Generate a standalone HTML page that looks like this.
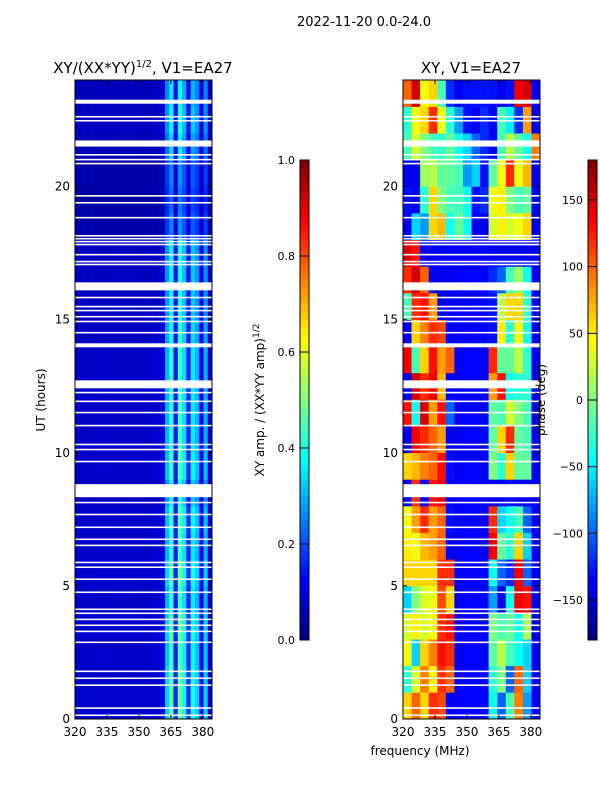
<!DOCTYPE html>
<html><head><meta charset="utf-8">
<style>
body{margin:0;background:#fff;}
svg{display:block;font-family:"DejaVu Sans","Liberation Sans",sans-serif;}
</style></head>
<body>
<svg id="fig" width="600" height="800" viewBox="0 0 600 800">
<text x="364" y="26" font-size="13" text-anchor="middle">2022-11-20 0.0-24.0</text>
<text x="143" y="73" font-size="15" text-anchor="middle">XY/(XX*YY)<tspan font-size="10" dy="-6">1/2</tspan><tspan dy="6">, V1=EA27</tspan></text>
<text x="471" y="73" font-size="15" text-anchor="middle">XY, V1=EA27</text>
<g id="left"></g>
<g id="right"></g>
<g id="cb1"></g>
<g id="cb2"></g>
<g id="axes"></g>
<text transform="translate(45,400) rotate(-90)" font-size="12" text-anchor="middle">UT (hours)</text>
<text x="420" y="755" font-size="12" text-anchor="middle">frequency (MHz)</text>
<text transform="translate(264,400) rotate(-90)" font-size="12" text-anchor="middle">XY amp. / (XX*YY amp)<tspan font-size="9" dy="-5">1/2</tspan></text>
<text transform="translate(545,400) rotate(-90)" font-size="12" text-anchor="middle">phase (deg)</text>
</svg>
<script>
// ---- data ----
const ampProfile=[0.07,0.07,0.07,0.07,0.07,0.07,0.07,0.07,0.07,0.07,0.07,0.07,0.07,0.07,0.07,0.07,0.07,0.07,0.07,0.08,0.09,0.3,0.42,0.15,0.45,0.35,0.15,0.36,0.3,0.12,0.3,0.07];
const ampRow=[1.1,1.1,1.05,1.1,1.0,1.1,1.0,1.05,0.9,1.05,1.0,1.0,1.0,1.0,0.95,0.9,0.9,0.9,0.6,0.55,0.6,0.8,0.9,0.85];
const phase=[
[60,100,60,120,110,-140,-135,-135,-135,-135,-40,-100,-20,90,-80,-140],
[-30,30,90,50,120,100,-135,-135,-135,-135,-30,0,-100,100,-60,-140],
[40,-60,60,90,130,120,-140,-135,-135,-135,-10,20,-20,-40,-60,-140],
[30,50,30,40,120,130,-140,-135,-135,-135,0,-20,-10,-40,20,-140],
[-60,0,30,40,110,60,-140,-135,-135,-135,-80,-140,-40,140,130,-140],
[60,60,60,60,120,120,-140,-135,-135,-135,-40,-100,-120,140,-100,-140],
[50,40,70,80,100,-140,-140,-135,-135,-135,140,-10,-30,60,-60,-140],
[40,80,120,80,100,-130,-140,-135,-135,-135,120,-60,-40,-20,-100,-140],
[-140,120,-140,130,140,-140,-135,-135,-135,-135,-140,-140,-130,-140,-140,-135],
[60,70,90,100,130,-130,-140,-135,-135,-135,0,-30,60,-10,-10,-140],
[-140,140,120,100,80,-140,-140,-135,-135,-135,-10,60,120,-10,-20,-140],
[130,-40,150,80,130,-100,-140,-135,-135,-135,-10,-20,30,0,-20,-140],
[-140,150,120,140,70,-140,-140,-135,-135,-135,80,130,-40,-30,-30,-140],
[140,-20,60,130,80,100,-140,-135,-135,-135,120,-10,-10,20,-30,-140],
[-140,60,90,120,110,-140,-135,-135,-135,-135,-130,50,-30,40,-40,-140],
[-20,120,130,80,-140,-140,-135,-135,-135,-135,-130,20,60,60,-30,-140],
[120,150,100,-140,-140,-140,-135,-135,-135,-135,-120,-100,-20,10,-40,-140],
[150,130,-140,-140,-135,-135,-135,-135,-135,-135,-140,-140,-140,-140,-140,-140],
[-140,-60,-80,60,70,-40,-10,-40,-140,-140,30,50,30,40,60,-140],
[-130,-140,-30,60,0,-20,-20,-40,-130,-120,40,50,0,-20,-10,-140],
[-140,-140,10,20,-10,-10,-20,-80,-60,-130,-10,40,120,40,70,-140],
[-20,30,0,-20,-30,-10,-40,-60,-100,-120,-140,-20,20,-10,-40,90],
[-30,40,60,120,40,-30,-80,-130,-140,-120,-140,-20,-50,-120,80,-140],
[100,150,40,60,-20,-120,-140,-130,-130,-130,-130,-140,-130,140,150,-140]];
const flagStart=[23.11,22.59,22.44,21.5,21.16,20.98,20.83,19.62,19.36,18.8,18.12,18.01,17.9,17.79,17.41,17.15,17.04,16.1,15.8,15.46,15.31,15.08,14.9,14.48,13.96,12.42,12.23,11.9,11.48,10.99,10.28,10.09,9.64,8.33,8.1,7.65,7.17,6.72,6.49,5.85,5.67,5.22,4.73,4.09,3.94,3.71,3.49,3.26,2.85,1.76,1.5,1.24,0.38,0.11];
const flagDur=[0.15,0.06,0.06,0.23,0.06,0.06,0.06,0.06,0.06,0.06,0.06,0.06,0.06,0.06,0.06,0.06,0.06,0.3,0.06,0.06,0.06,0.06,0.06,0.06,0.15,0.3,0.06,0.06,0.06,0.06,0.06,0.06,0.06,0.49,0.06,0.06,0.06,0.06,0.06,0.06,0.06,0.06,0.06,0.06,0.06,0.06,0.06,0.06,0.06,0.06,0.06,0.06,0.06,0.06];
const xTicks=[320,335,350,365,380];
const yTicks=[0,5,10,15,20];
const ampTicks=[0.0,0.2,0.4,0.6,0.8,1.0];
const phTicks=[-150,-100,-50,0,50,100,150];

// ---- helpers ----
const NS="http://www.w3.org/2000/svg";
function mk(tag,attrs,parent){const e=document.createElementNS(NS,tag);for(const k in attrs)e.setAttribute(k,attrs[k]);parent.appendChild(e);return e;}
function jet(v){v=Math.max(0,Math.min(1,v));
 const r=Math.max(0,Math.min(1,1.5-Math.abs(4*v-3)));
 const g=Math.max(0,Math.min(1,1.5-Math.abs(4*v-2)));
 const b=Math.max(0,Math.min(1,1.5-Math.abs(4*v-1)));
 return `rgb(${Math.round(r*255)},${Math.round(g*255)},${Math.round(b*255)})`;}
const Y0=719,Y1=80,FMIN=320,FMAX=384.3;
const yS=h=>Y0-(Y0-Y1)*h/24;
function xS(px0,px1){return f=>px0+(px1-px0)*(f-FMIN)/(FMAX-FMIN);}
const panels=[{x0:75,x1:212,g:'left'},{x0:403,x1:540,g:'right'}];

// left heatmap
(function(){const g=document.getElementById('left');const x=xS(75,212);const cw=(FMAX-FMIN)/ampProfile.length;
 for(let h=0;h<ampRow.length;h++)for(let c=0;c<ampProfile.length;c++){
  const v=Math.min(1,ampProfile[c]*ampRow[h]);
  const r=mk('rect',{x:x(FMIN+c*cw),y:yS(h+1),width:x(FMIN+(c+1)*cw)-x(FMIN+c*cw)+0.3,height:yS(h)-yS(h+1)+0.3,fill:jet(v)},g);
  
  }
})();
// right heatmap
(function(){const g=document.getElementById('right');const x=xS(403,540);const cw=(FMAX-FMIN)/phase[0].length;
 for(let h=0;h<phase.length;h++)for(let c=0;c<phase[h].length;c++){
  const v=(phase[h][c]+180)/360;
  const r=mk('rect',{x:x(FMIN+c*cw),y:yS(h+1),width:x(FMIN+(c+1)*cw)-x(FMIN+c*cw)+0.3,height:yS(h)-yS(h+1)+0.3,fill:jet(v)},g);
  
  }
})();
// flags, frames, ticks
const ax=document.getElementById('axes');
panels.forEach(p=>{
 const x=xS(p.x0,p.x1);
 for(let i=0;i<flagStart.length;i++){
  const r=mk('rect',{x:p.x0,y:yS(flagStart[i]+flagDur[i]),width:p.x1-p.x0,height:Math.max(1.4,yS(flagStart[i])-yS(flagStart[i]+flagDur[i])),fill:'#fff'},ax);
  
  }
 const fr=mk('rect',{x:p.x0,y:Y1,width:p.x1-p.x0,height:Y0-Y1,fill:'none',stroke:'#000','stroke-width':1},ax);
 
 
 xTicks.forEach(t=>{const xx=x(t);
  mk('line',{x1:xx,x2:xx,y1:Y0,y2:Y0-4,stroke:'#000'},ax);mk('line',{x1:xx,x2:xx,y1:Y1,y2:Y1+4,stroke:'#000'},ax);
  const tx=mk('text',{x:xx,y:Y0+17,'font-size':12,'text-anchor':'middle'},ax);tx.textContent=t;
  
  });
 yTicks.forEach(t=>{const yy=yS(t);
  mk('line',{x1:p.x0,x2:p.x0+4,y1:yy,y2:yy,stroke:'#000'},ax);mk('line',{x1:p.x1,x2:p.x1-4,y1:yy,y2:yy,stroke:'#000'},ax);
  const tx=mk('text',{x:p.x0-5,y:yy+4,'font-size':12,'text-anchor':'end'},ax);tx.textContent=t;
  
  });
});
// colorbars
function cbar(id,x0,ticks,tmin,tmax,fmt){
 const g=document.getElementById(id);const top=160,bot=640,N=120;
 for(let i=0;i<N;i++){mk('rect',{x:x0,y:bot-(i+1)*(bot-top)/N,width:9,height:(bot-top)/N+0.5,fill:jet((i+0.5)/N)},g);}
 mk('rect',{x:x0,y:top,width:9,height:bot-top,fill:'none',stroke:'#000','stroke-width':1},g);
 ticks.forEach(t=>{const yy=bot-(bot-top)*(t-tmin)/(tmax-tmin);
  mk('line',{x1:x0,x2:x0+9,y1:yy,y2:yy,stroke:'#000'},g);
  const tx=mk('text',{x:x0-5,y:yy+4,'font-size':11,'text-anchor':'end'},g);tx.textContent=fmt(t);
  
  });
}
cbar('cb1',300,ampTicks,0,1,t=>t.toFixed(1));
cbar('cb2',588,phTicks,-180,180,t=>t<0?'\u2212'+(-t):String(t));
</script>
</body></html>
